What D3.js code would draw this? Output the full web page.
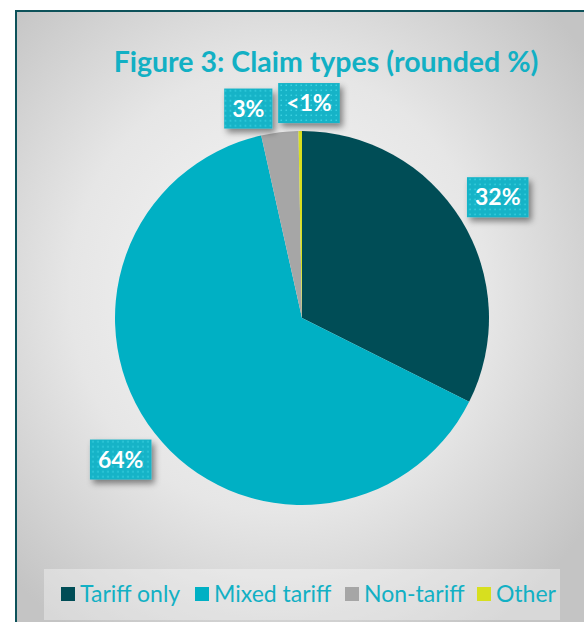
<!DOCTYPE html>
<html>
<head>
<meta charset="utf-8">
<script src="https://cdn.jsdelivr.net/npm/d3@7"></script>
<style>
body { margin: 0; background: #fff; }
text { font-family: Lato, "Open Sans", sans-serif; }
</style>
</head>
<body>
<script>
// claim types, rounded %
var categories = ["Tariff only", "Mixed tariff", "Non-tariff", "Other"];
var values = [32.4, 64.1, 3.2, 0.3];
var labels = ["32%", "64%", "3%", "<1%"];
var colors = ["#004d56", "#00b0c4", "#a6a6a6", "#d7df1f"];

const width = 584, height = 622;
const cx = 302, cy = 318, r = 187;

var svg = d3.select("body").append("svg")
    .attr("width", width)
    .attr("height", height);

var defs = svg.append("defs");

var bg = defs.append("radialGradient").attr("id", "bg")
    .attr("cx", "45%").attr("cy", "45%").attr("r", "65%");
bg.append("stop").attr("offset", "0%").attr("stop-color", "#f7f7f7");
bg.append("stop").attr("offset", "55%").attr("stop-color", "#e6e6e6");
bg.append("stop").attr("offset", "100%").attr("stop-color", "#c4c4c4");

var pat = defs.append("pattern").attr("id", "dots")
    .attr("width", 5).attr("height", 5)
    .attr("patternUnits", "userSpaceOnUse");
pat.append("rect").attr("width", 5).attr("height", 5).attr("fill", "#14b3c7");
pat.append("rect").attr("x", 1.5).attr("y", 1.5).attr("width", 1.5).attr("height", 1.5)
    .attr("fill", "#3fd2e2");

var sh = defs.append("filter").attr("id", "shadow")
    .attr("x", "-30%").attr("y", "-30%").attr("width", "170%").attr("height", "170%");
sh.append("feDropShadow").attr("dx", 3).attr("dy", 4).attr("stdDeviation", 3)
    .attr("flood-color", "#000").attr("flood-opacity", 0.45);

// frame
svg.append("rect")
    .attr("x", 16).attr("y", 11)
    .attr("width", width).attr("height", height)
    .attr("fill", "url(#bg)")
    .attr("stroke", "#0d525a")
    .attr("stroke-width", 2);

svg.append("text")
    .attr("x", 326).attr("y", 72)
    .attr("text-anchor", "middle")
    .attr("font-size", 28.5)
    .attr("font-weight", "bold")
    .attr("fill", "#12b0c4")
    .text("Figure 3: Claim types (rounded %)");

var pie = d3.pie().sort(null).value(function(d){ return d; });
var arcs = pie(values);
var arc = d3.arc().innerRadius(0).outerRadius(r);

var g = svg.append("g").attr("transform", "translate(" + cx + "," + cy + ")");

g.selectAll("path")
    .data(arcs)
    .enter()
    .append("path")
    .attr("d", arc)
    .attr("fill", function(d, i){ return colors[i]; });

// data labels: outside end, small ones pulled in and pushed apart
var labelR = [230, 230, 216, 215];
var nudgeX = [0, 0, -28, 11];
var nudgeY = [0, 0, 5, 0];
var lab = g.selectAll("g.lab")
    .data(arcs)
    .enter()
    .append("g")
    .attr("class", "lab")
    .attr("transform", function(d, i){
        var a = (d.startAngle + d.endAngle) / 2;
        if (i == 3) a = d.startAngle;
        var x = Math.sin(a) * labelR[i] + nudgeX[i];
        var y = -Math.cos(a) * labelR[i] + nudgeY[i];
        return "translate(" + x + "," + y + ")";
    });

lab.append("text")
    .attr("text-anchor", "middle")
    .attr("dy", "0.36em")
    .attr("font-size", 23)
    .attr("font-weight", "bold")
    .attr("fill", "#fff")
    .text(function(d, i){ return labels[i]; })
    .each(function(){
        var b = this.getBBox();
        var w = b.width + 16;
        d3.select(this.parentNode).insert("rect", "text")
            .attr("x", -w / 2).attr("y", -20)
            .attr("width", w).attr("height", 40)
            .attr("fill", "url(#dots)")
            .attr("filter", "url(#shadow)");
    });

// legend
var legend = svg.append("g");
legend.append("rect")
    .attr("x", 44).attr("y", 569)
    .attr("width", 516).attr("height", 51)
    .attr("fill", "#fff").attr("fill-opacity", 0.35);

var lx = [61, 195, 345, 477];
var items = legend.selectAll("g.item")
    .data(categories)
    .enter()
    .append("g")
    .attr("class", "item")
    .attr("transform", function(d, i){ return "translate(" + lx[i] + ",587)"; });
items.append("rect")
    .attr("width", 14).attr("height", 14)
    .attr("fill", function(d, i){ return colors[i]; });
items.append("text")
    .attr("x", 19).attr("y", 14.5)
    .attr("font-size", 23)
    .attr("fill", "#12b0c4")
    .text(function(d){ return d; });
</script>
</body>
</html>
